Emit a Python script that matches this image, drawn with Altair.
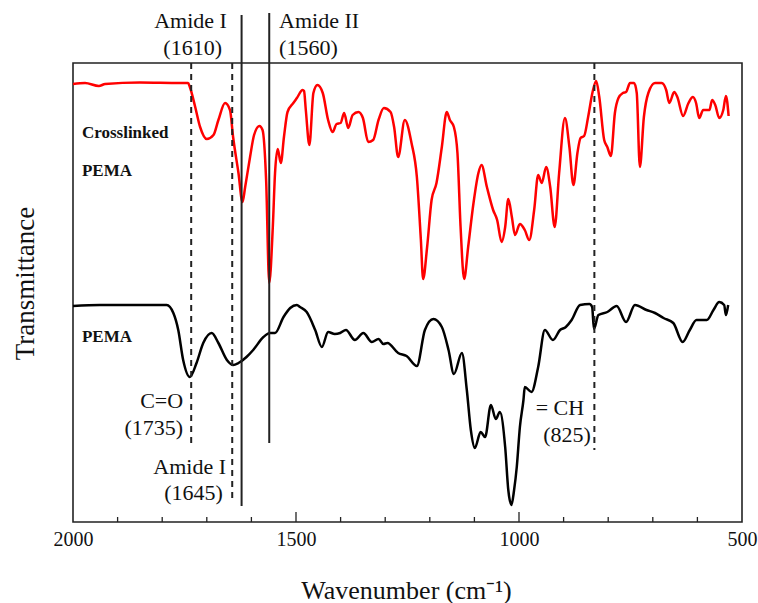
import altair as alt
import pandas as pd

# ---- Crosslinked PEMA (red) : wavenumber (cm-1) and transmittance (a.u.) ----
red_wn = [2000, 1973, 1942, 1928, 1850, 1760, 1742, 1738, 1726, 1715, 1700, 1685, 1674, 1659,
          1648, 1641, 1629, 1620, 1614, 1603, 1594, 1582, 1575, 1567, 1560, 1552, 1547, 1541,
          1534, 1527, 1519, 1506, 1498, 1485, 1482, 1478, 1470, 1461, 1452, 1440, 1428, 1418,
          1409, 1400, 1392, 1383, 1373, 1360, 1350, 1338, 1327, 1315, 1303, 1288, 1280, 1271,
          1256, 1241, 1229, 1220, 1215, 1206, 1196, 1185, 1173, 1162, 1155, 1146, 1138, 1131,
          1123, 1114, 1102, 1091, 1084, 1072, 1058, 1049, 1039, 1031, 1024, 1016, 1009, 998,
          987, 977, 966, 957, 949, 939, 930, 920, 910, 897, 887, 878, 869, 862, 854, 845, 835,
          827, 820, 809, 802, 794, 785, 777, 767, 760, 751, 742, 736, 729, 720, 710, 695, 680,
          670, 663, 652, 645, 632, 620, 610, 603, 596, 587, 573, 567, 560, 551, 542, 536, 530]
red_t = [438, 439, 436, 438, 439.5, 439, 439, 435, 415, 395, 383, 387, 402, 419,
         412, 385, 349, 320, 335, 365, 387, 396, 392, 342, 239, 295, 349, 373,
         359, 385, 410, 419, 424, 432, 431, 412, 377, 429, 437, 429, 402, 390,
         398, 399, 409, 394, 407, 410, 404, 380, 382, 402, 414, 410, 395, 365,
         402, 379, 345, 282, 243, 275, 322, 339, 375, 410, 402, 395, 369, 295,
         243, 275, 319, 349, 357, 335, 312, 302, 280, 295, 323, 305, 287, 298,
         292, 282, 312, 347, 339, 355, 335, 295, 349, 404, 375, 337, 369, 384, 386, 405, 430,
         441, 425, 382, 375, 366, 409, 424, 429, 430, 439, 439, 429, 355, 405, 429, 439, 439,
         432, 419, 430, 425, 406, 419, 425, 419, 404, 412, 412, 422, 417, 404, 412, 426, 406]

# ---- PEMA (black) ----
black_wn = [2000, 1940, 1872, 1790, 1775, 1764, 1753, 1738, 1723, 1708, 1689, 1674, 1655, 1641,
            1629, 1611, 1596, 1573, 1558, 1547, 1528, 1513, 1498, 1491, 1476, 1457, 1442, 1428,
            1413, 1401, 1388, 1368, 1349, 1330, 1315, 1304, 1295, 1271, 1252, 1229, 1211, 1192,
            1173, 1158, 1146, 1128, 1117, 1108, 1099, 1086, 1076, 1063, 1052, 1043, 1031, 1024,
            1017, 1011, 1005, 998, 990, 987, 972, 957, 942, 924, 908, 895, 882, 863, 842, 836,
            832, 822, 802, 781, 760, 740, 714, 695, 676, 654, 633, 617, 602, 579, 564, 551, 540,
            536, 531]
black_t = [216, 217, 217, 217, 209, 192, 162, 145, 159, 179, 189, 179, 162, 157,
           159, 165, 172, 185, 189, 189, 205, 214, 217, 215, 210, 192, 175, 190,
           188, 189, 192, 182, 189, 180, 183, 178, 179, 169, 166, 156, 192, 203,
           195, 172, 148, 169, 132, 92, 74, 90, 85, 117, 103, 110, 75, 32,
           17, 32, 55, 95, 122, 135, 130, 155, 192, 182, 192, 195, 202, 217, 218, 215,
           193, 207, 210, 216, 200, 217, 212, 209, 204, 199, 180, 192, 202, 202, 212, 220, 217,
           207, 217]

# ---- marker lines: wavenumber, top and bottom (a.u.) ----
dash_wn = [1735, 1643, 831]
dash_top = [459, 459, 459]
dash_bot = [77, 19, 72]
solid_wn = [1622, 1560]
solid_top = [507, 509]
solid_bot = [16, 79]

# ---- axis ticks ----
minor_ticks = [1900, 1800, 1700, 1600, 1400, 1300, 1200, 1100, 900, 800, 700, 600]
major_ticks = [1500, 1000]
tick_labels = [2000, 1500, 1000, 500]

# ---- annotations ----
ann_text = ["Amide I", "(1610)", "C=O", "(1735)", "Amide I", "(1645)", "= CH", "(825)"]
ann_wn = [1655, 1666, 1753, 1753, 1657, 1664, 854, 839]
ann_t = [494, 467, 114, 87, 48, 22, 107, 80]
ann2_text = ["Amide II", "(1560)"]
ann2_wn = [1538, 1538]
ann2_t = [494, 467]
bold_text = ["Crosslinked", "PEMA", "PEMA"]
bold_wn = [1980, 1980, 1980]
bold_t = [384, 346, 180]

FONT = "Liberation Serif"
xs = alt.Scale(domain=[500, 2000], reverse=True, nice=False, zero=False)
ys = alt.Scale(domain=[0, 459], nice=False, zero=False)

x_axis = alt.Axis(values=tick_labels, format="d", ticks=False, domain=False, grid=False,
                  labelFont=FONT, labelFontSize=20, labelColor="#111", labelPadding=7,
                  labelFlush=False, labelOverlap=False,
                  title="Wavenumber (cm⁻¹)", titleFont=FONT, titleFontSize=26,
                  titleFontWeight="normal", titleColor="#111", titleX=333, titleY=76,
                  titleBaseline="alphabetic", titleAlign="center")
y_axis = alt.Axis(labels=False, ticks=False, domain=False, grid=False,
                  title="Transmittance", titleFont=FONT, titleFontSize=27,
                  titleFontWeight="normal", titleColor="#111", titleX=-40, titleY=220,
                  titleAngle=-90, titleBaseline="alphabetic", titleAlign="center")

red_df = pd.DataFrame({"wn": red_wn, "t": red_t, "s": "Crosslinked PEMA"})
black_df = pd.DataFrame({"wn": black_wn, "t": black_t, "s": "PEMA"})

red = alt.Chart(red_df).mark_line(color="#ff0000", strokeWidth=2.5, interpolate="monotone").encode(
    x=alt.X("wn:Q", scale=xs, axis=x_axis),
    y=alt.Y("t:Q", scale=ys, axis=y_axis),
    order=alt.Order("wn:Q", sort="descending"),
)
black = alt.Chart(black_df).mark_line(color="#000000", strokeWidth=2.5, interpolate="monotone").encode(
    x=alt.X("wn:Q", scale=xs),
    y=alt.Y("t:Q", scale=ys),
    order=alt.Order("wn:Q", sort="descending"),
)

dash = alt.Chart(pd.DataFrame({"wn": dash_wn, "a": dash_top, "b": dash_bot})).mark_rule(
    color="#222", strokeWidth=2, strokeDash=[6, 5]).encode(
    x=alt.X("wn:Q", scale=xs), y=alt.Y("a:Q", scale=ys), y2="b:Q")
solid = alt.Chart(pd.DataFrame({"wn": solid_wn, "a": solid_top, "b": solid_bot})).mark_rule(
    color="#222", strokeWidth=2).encode(
    x=alt.X("wn:Q", scale=xs), y=alt.Y("a:Q", scale=ys), y2="b:Q")

minor = alt.Chart(pd.DataFrame({"wn": minor_ticks})).mark_rule(color="#222", strokeWidth=1.3).encode(
    x=alt.X("wn:Q", scale=xs), y=alt.value(459), y2=alt.value(454))
major = alt.Chart(pd.DataFrame({"wn": major_ticks})).mark_rule(color="#222", strokeWidth=1.3).encode(
    x=alt.X("wn:Q", scale=xs), y=alt.value(459), y2=alt.value(449))

ann = alt.Chart(pd.DataFrame({"txt": ann_text, "wn": ann_wn, "t": ann_t})).mark_text(
    font=FONT, fontSize=22, color="#111", align="right", baseline="alphabetic").encode(
    x=alt.X("wn:Q", scale=xs), y=alt.Y("t:Q", scale=ys), text="txt:N")
ann2 = alt.Chart(pd.DataFrame({"txt": ann2_text, "wn": ann2_wn, "t": ann2_t})).mark_text(
    font=FONT, fontSize=22, color="#111", align="left", baseline="alphabetic").encode(
    x=alt.X("wn:Q", scale=xs), y=alt.Y("t:Q", scale=ys), text="txt:N")
bold = alt.Chart(pd.DataFrame({"txt": bold_text, "wn": bold_wn, "t": bold_t})).mark_text(
    font=FONT, fontSize=17, fontWeight="bold", color="#111", align="left", baseline="alphabetic").encode(
    x=alt.X("wn:Q", scale=xs), y=alt.Y("t:Q", scale=ys), text="txt:N")

chart = alt.layer(red, black, dash, solid, minor, major, ann, ann2, bold).properties(
    width=669, height=459,
    padding={"left": 73, "top": 63, "right": 16, "bottom": 81},
    autosize=alt.AutoSizeParams(type="none"),
).configure_view(stroke="#222", strokeWidth=1.6)

chart.save("out.html", embed_options={"renderer": "svg", "actions": False})
